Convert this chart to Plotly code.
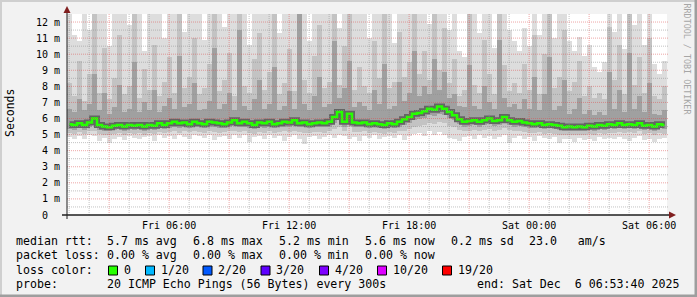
import plotly.graph_objects as go
import pandas as pd

# ---------------- data (values in ms, one bucket = 15 min) ----------------
start_time = "2025-12-05 00:53:40"
end_time = "2025-12-06 06:53:40"
bucket_minutes = 15

median_ms = [
    5.65, 5.6, 5.7, 5.6, 5.75, 6.0, 5.6, 5.5, 5.45, 5.55,
    5.6, 5.5, 5.6, 5.55, 5.6, 5.5, 5.6, 5.55, 5.7, 5.6,
    5.7, 5.8, 5.7, 5.75, 5.65, 5.8, 5.7, 5.65, 5.8, 5.75,
    5.7, 5.65, 5.75, 5.9, 5.7, 5.8, 5.7, 5.6, 5.75, 5.7,
    5.8, 5.65, 5.7, 5.8, 5.75, 5.9, 5.7, 5.75, 5.65, 5.7,
    5.75, 5.7, 5.8, 6.1, 6.4, 5.8, 6.3, 5.75, 5.7, 5.75,
    5.65, 5.7, 5.65, 5.6, 5.7, 5.65, 5.8, 5.95, 6.1, 6.3,
    6.35, 6.45, 6.6, 6.55, 6.75, 6.6, 6.4, 6.2, 5.95, 5.8,
    5.85, 5.9, 5.8, 5.9, 6.0, 5.85, 5.9, 6.1, 5.9, 5.8,
    5.85, 5.75, 5.7, 5.65, 5.7, 5.6, 5.65, 5.6, 5.55, 5.45,
    5.5, 5.45, 5.5, 5.45, 5.55, 5.5, 5.6, 5.55, 5.65, 5.6,
    5.7, 5.6, 5.65, 5.6, 5.7, 5.55, 5.6, 5.5, 5.65, 5.6,
]
ping_max = [
    12.5, 11.2, 10.8, 12.5, 11.5, 12.5, 12.5, 12.5, 10.5, 12.5,
    12.5, 12.5, 11.8, 12.5, 12.5, 10.2, 12.5, 12.5, 12.5, 11.0,
    12.5, 12.5, 12.5, 11.4, 12.5, 12.5, 12.5, 10.9, 12.5, 12.5,
    12.5, 11.7, 12.5, 12.5, 12.5, 12.5, 10.6, 12.5, 12.5, 12.5,
    12.5, 12.5, 11.3, 12.5, 12.5, 12.5, 12.5, 12.5, 10.8, 12.5,
    12.5, 12.5, 12.5, 12.5, 11.6, 12.5, 12.5, 12.5, 12.5, 12.5,
    11.0, 12.5, 12.5, 12.5, 12.5, 10.7, 12.5, 12.5, 12.5, 12.5,
    12.5, 12.5, 11.9, 12.5, 12.5, 12.5, 11.5, 12.5, 10.2, 9.8,
    12.5, 12.5, 11.3, 12.5, 12.5, 10.4, 12.5, 12.5, 11.5, 10.8,
    10.2, 11.6, 10.5, 12.5, 11.2, 12.5, 12.5, 11.0, 12.5, 12.5,
    10.8, 10.2, 11.1, 9.9, 10.6, 9.2, 8.9, 9.5, 12.5, 11.4,
    12.5, 10.3, 12.5, 11.8, 12.5, 10.6, 12.5, 9.4, 8.8, 9.6,
]
ping_p90 = [
    8.2, 7.4, 9.6, 7.1, 8.8, 12.5, 7.6, 10.4, 7.2, 8.5,
    11.2, 7.5, 8.0, 12.5, 7.3, 9.1, 7.8, 10.6, 7.4, 8.3,
    9.8, 7.6, 12.5, 7.9, 8.6, 11.0, 7.5, 7.9, 9.4, 12.5,
    7.7, 8.4, 10.1, 7.4, 12.5, 8.0, 7.6, 9.7, 11.3, 7.8,
    8.9, 12.5, 7.5, 8.2, 10.3, 7.7, 12.5, 8.4, 7.6, 9.9,
    11.8, 7.9, 8.3, 12.5, 8.1, 10.5, 12.5, 7.8, 9.2, 8.0,
    7.6, 10.8, 8.5, 12.5, 7.9, 8.3, 11.4, 8.6, 9.5, 12.5,
    8.8, 10.2, 8.4, 12.5, 9.0, 11.6, 8.2, 9.7, 7.4, 7.8,
    12.5, 8.1, 7.6, 10.9, 8.8, 7.5, 12.5, 9.3, 7.7, 8.2,
    7.6, 9.4, 7.8, 11.2, 7.5, 10.0, 12.5, 7.9, 8.6, 11.5,
    7.7, 8.3, 9.6, 7.4, 8.0, 7.3, 7.6, 7.2, 11.7, 8.4,
    10.6, 7.5, 12.5, 8.1, 9.8, 7.6, 11.0, 7.4, 7.2, 8.0,
]
ping_p75 = [
    6.6, 6.4, 7.2, 6.5, 6.9, 8.8, 6.5, 7.6, 6.3, 6.7,
    8.1, 6.4, 6.6, 9.5, 6.4, 7.0, 6.5, 7.8, 6.4, 6.8,
    7.3, 6.6, 9.9, 6.7, 6.9, 8.2, 6.5, 6.6, 7.1, 10.4,
    6.6, 6.9, 7.6, 6.5, 11.5, 6.8, 6.5, 7.2, 8.4, 6.6,
    6.9, 9.2, 6.5, 6.8, 7.7, 6.6, 12.5, 6.9, 6.5, 7.4,
    8.6, 6.7, 6.9, 10.8, 7.3, 7.9, 9.6, 6.7, 7.0, 6.8,
    6.5, 7.8, 6.9, 9.4, 6.6, 6.8, 8.3, 7.1, 7.6, 10.2,
    7.4, 8.0, 7.5, 9.7, 7.8, 8.9, 7.3, 7.5, 6.8, 6.7,
    9.3, 6.8, 6.6, 8.0, 7.0, 6.6, 10.9, 7.3, 6.7, 6.9,
    6.6, 7.2, 6.6, 8.6, 6.5, 7.5, 9.8, 6.5, 6.8, 8.4,
    6.3, 6.6, 7.3, 6.3, 6.5, 6.2, 6.4, 6.2, 8.9, 6.6,
    7.8, 6.4, 10.1, 6.6, 7.4, 6.4, 8.2, 6.3, 6.2, 6.5,
]
ping_p25 = [
    5.35, 5.3, 5.4, 5.3, 5.45, 5.6, 5.3, 5.25, 5.2, 5.3,
    5.35, 5.25, 5.35, 5.3, 5.35, 5.25, 5.35, 5.3, 5.4, 5.35,
    5.4, 5.5, 5.4, 5.45, 5.4, 5.5, 5.45, 5.4, 5.5, 5.45,
    5.4, 5.4, 5.45, 5.6, 5.45, 5.5, 5.4, 5.35, 5.45, 5.4,
    5.5, 5.4, 5.45, 5.5, 5.45, 5.6, 5.45, 5.45, 5.4, 5.45,
    5.45, 5.45, 5.5, 5.75, 6.0, 5.5, 5.9, 5.45, 5.45, 5.5,
    5.4, 5.45, 5.4, 5.35, 5.45, 5.4, 5.5, 5.6, 5.75, 5.9,
    5.95, 6.05, 6.2, 6.15, 6.3, 6.2, 6.05, 5.9, 5.65, 5.5,
    5.55, 5.6, 5.5, 5.6, 5.65, 5.55, 5.6, 5.75, 5.6, 5.5,
    5.55, 5.45, 5.4, 5.4, 5.45, 5.35, 5.4, 5.35, 5.3, 5.2,
    5.25, 5.2, 5.25, 5.2, 5.3, 5.25, 5.35, 5.3, 5.4, 5.35,
    5.45, 5.35, 5.4, 5.35, 5.45, 5.3, 5.35, 5.25, 5.4, 5.35,
]
ping_p10 = [
    5.1, 5.05, 5.15, 5.05, 5.2, 5.25, 5.05, 5.0, 4.95, 5.05,
    5.1, 5.0, 5.1, 5.05, 5.1, 5.0, 5.1, 5.05, 5.15, 5.1,
    5.15, 5.2, 5.1, 5.2, 5.15, 5.2, 5.15, 5.1, 5.2, 5.15,
    5.1, 5.15, 5.2, 5.25, 5.15, 5.2, 5.1, 5.05, 5.15, 5.1,
    5.2, 5.1, 5.15, 5.2, 5.15, 5.25, 5.15, 5.1, 5.1, 5.15,
    5.15, 5.1, 5.2, 5.35, 5.5, 5.2, 5.45, 5.15, 5.15, 5.2,
    5.1, 5.15, 5.1, 5.05, 5.15, 5.1, 5.2, 5.25, 5.35, 5.5,
    5.55, 5.6, 5.7, 5.65, 5.8, 5.7, 5.55, 5.45, 5.3, 5.2,
    5.25, 5.3, 5.2, 5.3, 5.35, 5.25, 5.3, 5.4, 5.3, 5.2,
    5.25, 5.15, 5.1, 5.1, 5.15, 5.05, 5.1, 5.05, 5.0, 4.95,
    5.0, 4.95, 5.0, 4.95, 5.05, 5.0, 5.1, 5.05, 5.1, 5.1,
    5.15, 5.1, 5.15, 5.1, 5.2, 5.05, 5.1, 5.0, 5.1, 5.05,
]
ping_min = [
    4.85, 4.7, 4.9, 4.75, 4.95, 4.9, 4.6, 4.8, 4.5, 4.75,
    4.85, 4.65, 4.9, 4.8, 4.7, 4.85, 4.9, 4.6, 4.95, 4.8,
    4.9, 4.75, 4.95, 4.85, 4.7, 4.95, 4.9, 4.8, 4.95, 4.65,
    4.85, 4.9, 4.75, 5.0, 4.8, 4.95, 4.55, 4.85, 4.9, 4.7,
    4.95, 4.8, 4.9, 4.6, 4.85, 4.95, 4.75, 4.4, 4.85, 4.9,
    4.7, 4.85, 4.95, 4.8, 5.0, 4.9, 4.75, 4.85, 4.6, 4.9,
    4.8, 4.95, 4.7, 4.85, 4.9, 4.8, 4.95, 4.65, 4.9, 5.05,
    5.1, 4.9, 5.2, 5.0, 5.15, 4.95, 4.8, 4.7, 4.6, 4.85,
    4.9, 4.75, 4.95, 4.8, 4.9, 4.7, 4.85, 4.95, 4.5, 4.8,
    4.9, 4.75, 4.85, 4.6, 4.9, 4.8, 4.7, 4.85, 4.5, 4.75,
    4.7, 4.55, 4.8, 4.65, 4.75, 4.6, 4.85, 4.7, 4.8, 4.75,
    4.85, 4.7, 4.6, 4.8, 4.9, 4.65, 4.75, 4.55, 4.7, 4.8,
]

y_tick_values = list(range(0, 13))
y_tick_labels = ["0\u00a0\u00a0"] + [f"{v}\u00a0m" for v in range(1, 13)]
x_tick_values = ["2025-12-05 06:00", "2025-12-05 12:00", "2025-12-05 18:00",
                 "2025-12-06 00:00", "2025-12-06 06:00"]
x_tick_labels = ["Fri 06:00", "Fri 12:00", "Fri 18:00", "Sat 00:00", "Sat 06:00"]

median_stats = ["5.7 ms avg", "6.8 ms max", "5.2 ms min", "5.6 ms now", "0.2 ms sd", "23.0   am/s"]
loss_stats = ["0.00 % avg", "0.00 % max", "0.00 % min", "0.00 % now"]
loss_labels = ["0", "1/20", "2/20", "3/20", "4/20", "10/20", "19/20"]
loss_colors = ["#26ff00", "#00b8ff", "#0059ff", "#5e00ff", "#7e00ff", "#dd00ff", "#ff0000"]
probe_text = "20 ICMP Echo Pings (56 Bytes) every 300s"
end_text = "end: Sat Dec  6 06:53:40 2025"
watermark = "RRDTOOL / TOBI OETIKER"

# ---------------- layout geometry (pixels) ----------------
W, H = 697, 297
PL, PR, PT, PB = 67, 667, 14, 215
MONO = "DejaVu Sans Mono"


def fx(p):
    return (p - PL) / (PR - PL)


def fy(p):
    return (PB - p) / (PB - PT)


def nb(s):
    return s.replace(" ", "\u00a0")


t0 = pd.Timestamp(start_time)
t1 = pd.Timestamp(end_time)
step = pd.Timedelta(minutes=bucket_minutes)
n = len(median_ms)
centers = [(t0 + step * (i + 0.5)).strftime("%Y-%m-%d %H:%M:%S") for i in range(n)]
bar_w = bucket_minutes * 60 * 1000

fig = go.Figure()


def band(lo, hi, color):
    fig.add_trace(go.Bar(
        x=centers, base=lo, y=[h - l for l, h in zip(lo, hi)], width=bar_w,
        marker=dict(color=color, line=dict(width=0)), hoverinfo="skip"))


band(ping_min, ping_max, "#dddddd")
band(ping_p10, ping_p90, "#c3c3c3")
band(ping_p25, ping_p75, "#a0a0a0")

fig.add_trace(go.Scatter(x=centers, y=median_ms, mode="lines",
                         line=dict(color="#646464", width=6, shape="hvh"), hoverinfo="skip"))
fig.add_trace(go.Scatter(x=centers, y=median_ms, mode="lines",
                         line=dict(color="#26ff00", width=2.5, shape="hvh"), hoverinfo="skip"))

shapes = []
GRID = "rgba(143,143,143,0.55)"
MGRID = "rgba(222,79,79,0.5)"
# vertical grid lines (hourly minor, 3-hourly major)
hour = pd.Timestamp("2025-12-05 01:00")
while hour <= t1:
    major = hour.hour % 3 == 0
    shapes.append(dict(type="line", xref="x", yref="paper", x0=hour.strftime("%Y-%m-%d %H:%M"),
                       x1=hour.strftime("%Y-%m-%d %H:%M"), y0=0, y1=1, layer="above",
                       line=dict(color=MGRID if major else GRID, width=1, dash="1px,1px")))
    hour += pd.Timedelta(hours=1)
# horizontal grid lines
for k in range(1, 25):
    v = k * 0.5
    major = k % 2 == 0
    shapes.append(dict(type="line", xref="paper", yref="y", x0=0, x1=fx(669), y0=v, y1=v,
                       layer="above",
                       line=dict(color=MGRID if major else GRID, width=1, dash="1px,1px")))

# axes lines
shapes.append(dict(type="line", xref="paper", yref="paper", x0=fx(62), x1=fx(670), y0=fy(215), y1=fy(215),
                   layer="above", line=dict(color="#1f1f1f", width=1.5)))
shapes.append(dict(type="line", xref="paper", yref="paper", x0=fx(67), x1=fx(67), y0=fy(219), y1=fy(12),
                   layer="above", line=dict(color="#1f1f1f", width=1)))
# arrows
arrow = "#801f1f"
shapes.append(dict(type="path", xref="paper", yref="paper", layer="above",
                   path=f"M {fx(676)} {fy(215)} L {fx(669)} {fy(211.5)} L {fx(669)} {fy(218.5)} Z",
                   fillcolor=arrow, line=dict(width=0)))
shapes.append(dict(type="path", xref="paper", yref="paper", layer="above",
                   path=f"M {fx(67)} {fy(6)} L {fx(63.5)} {fy(13)} L {fx(70.5)} {fy(13)} Z",
                   fillcolor=arrow, line=dict(width=0)))
# frame shading
shapes += [
    dict(type="rect", xref="paper", yref="paper", x0=fx(0), x1=fx(697), y0=fy(0), y1=fy(2),
         fillcolor="#cfcfcf", line=dict(width=0), layer="above"),
    dict(type="rect", xref="paper", yref="paper", x0=fx(0), x1=fx(2), y0=fy(0), y1=fy(297),
         fillcolor="#cfcfcf", line=dict(width=0), layer="above"),
    dict(type="rect", xref="paper", yref="paper", x0=fx(0), x1=fx(697), y0=fy(294.5), y1=fy(297),
         fillcolor="#9e9e9e", line=dict(width=0), layer="above"),
    dict(type="rect", xref="paper", yref="paper", x0=fx(694.5), x1=fx(697), y0=fy(0), y1=fy(297),
         fillcolor="#9e9e9e", line=dict(width=0), layer="above"),
]

# loss colour boxes
box_x = [108.5, 145.5, 203, 261, 319.5, 377.5, 442.5]
for bx, col in zip(box_x, loss_colors):
    shapes.append(dict(type="rect", xref="paper", yref="paper", x0=fx(bx), x1=fx(bx + 9),
                       y0=fy(266), y1=fy(275), fillcolor=col,
                       line=dict(color="black", width=1), layer="above"))

annotations = []


def text(x, y, s, size=11.6, color="black", angle=0, xanchor="left"):
    annotations.append(dict(x=fx(x), y=fy(y), xref="paper", yref="paper", text=nb(s),
                            showarrow=False, xanchor=xanchor, yanchor="middle", textangle=angle,
                            borderpad=0, borderwidth=0,
                            font=dict(family=MONO, size=size, color=color)))


row_y = [241, 255, 269.5, 283.5]
text(16, row_y[0], "median rtt:")
for s, x in zip(median_stats, [107, 193, 279, 365, 451, 529]):
    text(x, row_y[0], s)
text(16, row_y[1], "packet loss:")
for s, x in zip(loss_stats, [107, 193, 279, 365]):
    text(x, row_y[1], s)
text(16, row_y[2], "loss color:")
for s, bx in zip(loss_labels, box_x):
    text(bx + 15, row_y[2], s)
text(16, row_y[3], "probe:")
text(107, row_y[3], probe_text)
text(477, row_y[3], end_text)

text(10, 113, "Seconds", size=11.5, angle=-90, xanchor="center")
text(687, 59.5, watermark, size=8.4, color="#a6a6a6", angle=90, xanchor="center")

fig.update_layout(
    width=W, height=H,
    margin=dict(l=PL, r=W - PR, t=PT, b=H - PB, pad=0),
    paper_bgcolor="#f2f2f2", plot_bgcolor="#ffffff",
    showlegend=False, barmode="overlay", bargap=0,
    shapes=shapes, annotations=annotations,
    xaxis=dict(type="date", range=[start_time, end_time], showgrid=False, zeroline=False,
               showline=False, tickmode="array", tickvals=x_tick_values, ticktext=x_tick_labels,
               ticks="", ticklabelstandoff=3,
               tickfont=dict(family=MONO, size=10, color="black")),
    yaxis=dict(range=[0, 12.5], showgrid=False, zeroline=False, showline=False,
               tickmode="array", tickvals=y_tick_values, ticktext=y_tick_labels,
               ticks="", ticklabelstandoff=6,
               tickfont=dict(family=MONO, size=10, color="black")),
)

fig.write_html("out.html")
